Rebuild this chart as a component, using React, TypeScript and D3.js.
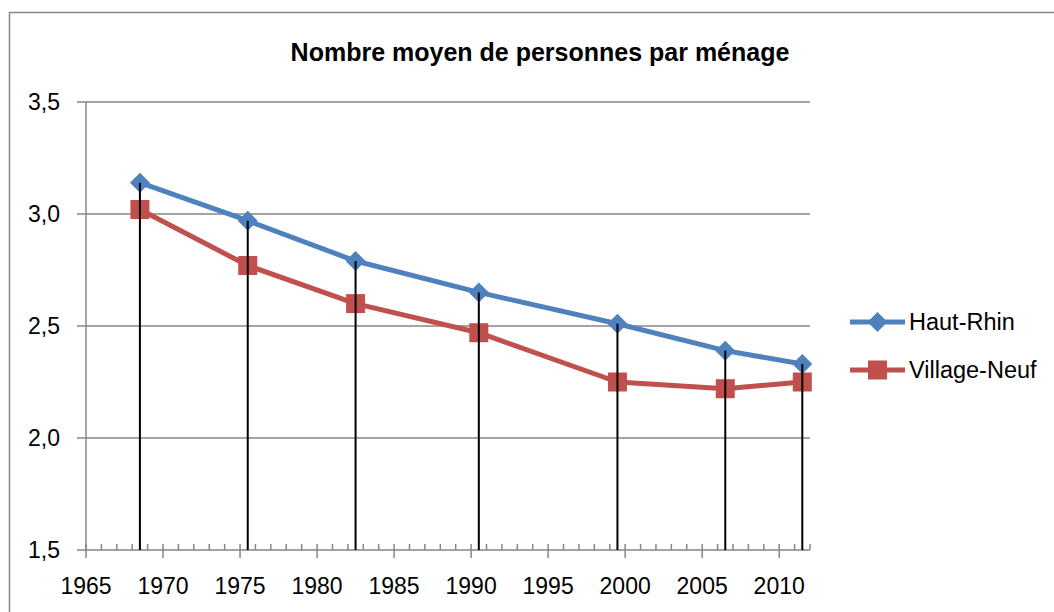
import React from "react";
import * as d3 from "d3";

const years = [1968, 1975, 1982, 1990, 1999, 2006, 2011];
const hautRhin = [3.14, 2.97, 2.79, 2.65, 2.51, 2.39, 2.33];
const villageNeuf = [3.02, 2.77, 2.6, 2.47, 2.25, 2.22, 2.25];
const yTicks = [1.5, 2.0, 2.5, 3.0, 3.5];
const xTicks = [1965, 1970, 1975, 1980, 1985, 1990, 1995, 2000, 2005, 2010];
const title = "Nombre moyen de personnes par ménage";
const seriesNames = ["Haut-Rhin", "Village-Neuf"];

const BLUE = "#4F81BD";
const RED = "#C0504D";
const GRID = "#868686";
const FONT = "'Liberation Sans', Arial, sans-serif";

export default function App() {
  const x = d3.scaleLinear().domain([1965, 2012]).range([86, 810]);
  const y = d3.scaleLinear().domain([1.5, 3.5]).range([550, 102]);
  const px = (yr: number) => x(yr + 0.5);

  const line = d3
    .line<number>()
    .x((_, i) => px(years[i]))
    .y((v) => y(v));

  const minorYears = d3.range(1965, 2013);
  const diamond = (cx: number, cy: number, r: number) =>
    `M${cx},${cy - r}L${cx + r},${cy}L${cx},${cy + r}L${cx - r},${cy}Z`;

  return (
    <svg
      width={1054}
      height={612}
      style={{ position: "absolute", left: 0, top: 0, background: "#fff" }}
      fontFamily={FONT}
    >
      <rect x={9.5} y={12.5} width={1060} height={620} fill="#fff" stroke={GRID} strokeWidth={1.5} />
      <text x={540} y={61} textAnchor="middle" fontSize={25} fontWeight="bold" fill="#000">
        {title}
      </text>

      {/* gridlines */}
      {yTicks.map((t) => (
        <line key={t} x1={77} x2={810} y1={y(t)} y2={y(t)} stroke={GRID} strokeWidth={1.5} />
      ))}
      {/* y axis */}
      <line x1={86} x2={86} y1={y(3.5)} y2={y(1.5)} stroke={GRID} strokeWidth={1.5} />
      {yTicks.map((t) => (
        <text key={t} x={60} y={y(t)} dy="0.35em" textAnchor="end" fontSize={23} fill="#000">
          {d3.format(".1f")(t).replace(".", ",")}
        </text>
      ))}
      {/* x axis minor ticks */}
      {minorYears.map((yr) => (
        <line key={yr} x1={x(yr)} x2={x(yr)} y1={544} y2={550} stroke={GRID} strokeWidth={1.5} />
      ))}
      {xTicks.map((t) => (
        <g key={t}>
          <line x1={x(t)} x2={x(t)} y1={550} y2={558} stroke={GRID} strokeWidth={1.5} />
          <text x={x(t)} y={594} textAnchor="middle" fontSize={23} fill="#000">
            {t}
          </text>
        </g>
      ))}

      {/* series lines */}
      <path d={line(hautRhin) || ""} fill="none" stroke={BLUE} strokeWidth={5} strokeLinejoin="round" />
      {hautRhin.map((v, i) => (
        <path key={i} d={diamond(px(years[i]), y(v), 10)} fill={BLUE} />
      ))}
      <path d={line(villageNeuf) || ""} fill="none" stroke={RED} strokeWidth={5} strokeLinejoin="round" />
      {villageNeuf.map((v, i) => (
        <rect key={i} x={px(years[i]) - 9.5} y={y(v) - 9.5} width={19} height={19} fill={RED} />
      ))}

      {/* drop lines */}
      {years.map((yr, i) => (
        <line
          key={yr}
          x1={px(yr)}
          x2={px(yr)}
          y1={y(Math.max(hautRhin[i], villageNeuf[i]))}
          y2={550}
          stroke="#000"
          strokeWidth={2}
        />
      ))}

      {/* legend */}
      <g>
        <line x1={850} x2={905} y1={322} y2={322} stroke={BLUE} strokeWidth={5} />
        <path d={diamond(877.5, 322, 10)} fill={BLUE} />
        <text x={909} y={322} dy="0.35em" fontSize={23.5} fill="#000">
          {seriesNames[0]}
        </text>
        <line x1={850} x2={905} y1={370} y2={370} stroke={RED} strokeWidth={5} />
        <rect x={868} y={360.5} width={19} height={19} fill={RED} />
        <text x={909} y={370} dy="0.35em" fontSize={23.5} fill="#000">
          {seriesNames[1]}
        </text>
      </g>
    </svg>
  );
}
